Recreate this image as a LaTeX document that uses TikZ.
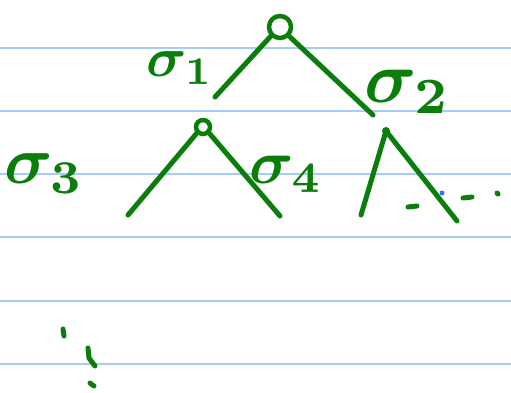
\documentclass[tikz,border=0pt]{standalone}
\usepackage{amsmath,amssymb}
\usepackage{tikz}
\usetikzlibrary{positioning,calc}

\definecolor{ink}{RGB}{10,125,10}
\definecolor{ruling}{RGB}{165,205,250}
\definecolor{pen}{RGB}{60,110,235}

\begin{document}
\begin{tikzpicture}[x=1pt, y=-1pt,
  stroke/.style={draw=ink, line width=5pt, line cap=round, line join=round},
  vertex/.style={circle, draw=ink, line width=4.5pt, inner sep=0pt},
  lbl/.style={text=ink, inner sep=0pt, font=\boldmath, scale=5.6}]
\useasboundingbox (0,0) rectangle (511,392);
% ruled paper
\foreach \y in {48,111,174,237,301,364}
  \draw[ruling, line width=2pt] (0,\y) -- (511,\y);

% root and its two branches
\node[vertex, minimum size=22pt] (root) at (280,27) {};
\coordinate (rootL) at (215,97);
\coordinate (rootR) at (373,115);
\draw[stroke] (root.south west) -- (rootL);
\draw[stroke] (root.south east) -- (rootR);
\node[lbl] (s1) at (180,68) {$\sigma_1$};
\node[lbl, scale=1.3] (s2) at (408,92) {$\sigma_2$};

% left child
\node[vertex, minimum size=14pt] (lchild) at (203,127) {};
\coordinate (lchildL) at (128,215);
\coordinate (lchildR) at (280,216);
\draw[stroke] (lchild.south west) -- (lchildL);
\draw[stroke] (lchild.south east) -- (lchildR);
\node[lbl, scale=1.2] (s3) at (44,174) {$\sigma_3$};
\node[lbl, scale=1.1] (s4) at (286,174) {$\sigma_4$};

% right child
\coordinate (rchild) at (386,131);
\coordinate (rchildL) at (361,215);
\coordinate (rchildR) at (457,221);
\draw[stroke] (rchild) -- (rchildL);
\draw[stroke] (rchild) -- (rchildR);
\fill[ink] (rchild) circle (4pt);

% trailing dots
\draw[stroke] (408,207) -- (417,206);
\draw[stroke] (463,198) -- (472,197);
\draw[stroke] (497,193) -- (498,194);
\fill[pen] (442,193) circle (2.5pt);
\draw[stroke] (63,329) -- (64,336);
\draw[stroke] (88,348) -- (89,358) -- (95,366);
\draw[stroke] (90,383) -- (94,386);
\end{tikzpicture}
\end{document}
